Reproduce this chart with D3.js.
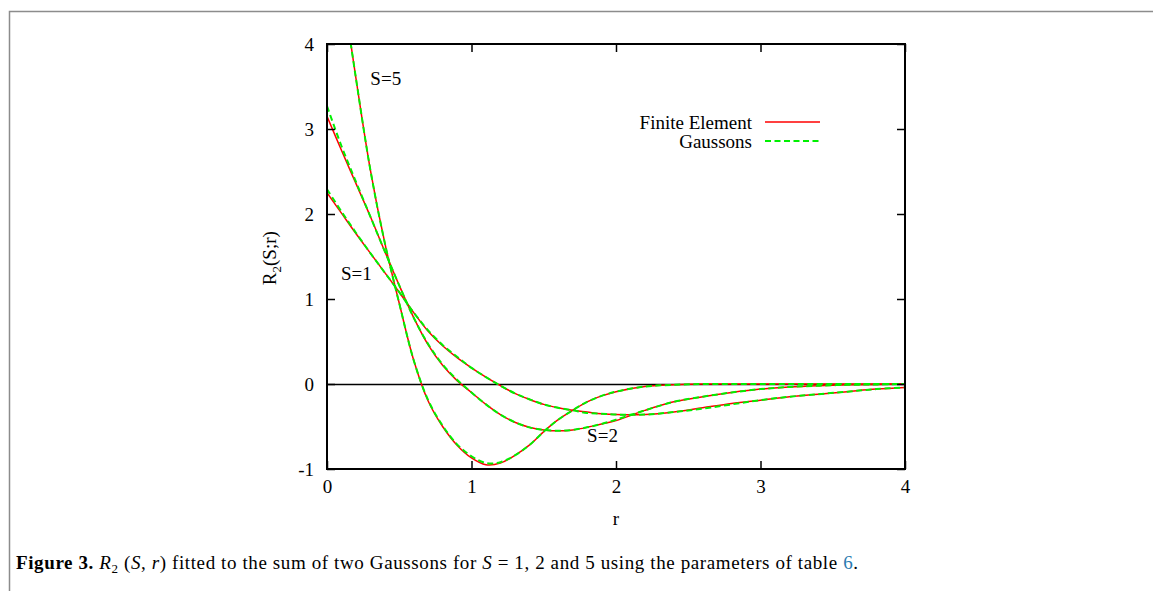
<html>
<head>
<meta charset="utf-8">
<title>R2(S;r) Gaussons</title>
<script src="https://d3js.org/d3.v7.min.js"></script>
<style>
body { margin: 0; background: #fff; }
text { font-family: "Liberation Serif", "Times New Roman", serif; fill: #000; }
</style>
</head>
<body>
<script>
// r grid shared by every curve
var rValues = [0, 0.1, 0.2, 0.3, 0.4, 0.5, 0.6, 0.7, 0.8, 0.9, 1.0, 1.1, 1.2, 1.3, 1.4, 1.5,
  1.6, 1.7, 1.8, 1.9, 2.0, 2.2, 2.4, 2.6, 2.8, 3.0, 3.2, 3.4, 3.6, 3.8, 4.0];

// finite element (red, solid)
var feS1 = [2.25, 2.01, 1.77, 1.54, 1.31, 1.08, 0.84, 0.62, 0.45, 0.31, 0.19, 0.08, -0.02, -0.11,
  -0.18, -0.24, -0.28, -0.31, -0.33, -0.35, -0.36, -0.36, -0.33, -0.28, -0.23, -0.19, -0.15,
  -0.12, -0.09, -0.06, -0.04];
var feS2 = [3.15, 2.75, 2.36, 1.97, 1.56, 1.16, 0.78, 0.46, 0.22, 0.04, -0.10, -0.24, -0.36, -0.45,
  -0.51, -0.54, -0.55, -0.54, -0.51, -0.47, -0.43, -0.31, -0.21, -0.15, -0.10, -0.06, -0.035,
  -0.02, -0.01, -0.005, 0];
var feS5 = [5.9, 4.75, 3.6, 2.52, 1.66, 0.95, 0.28, -0.2, -0.5, -0.72, -0.87, -0.95, -0.93, -0.84,
  -0.72, -0.56, -0.42, -0.31, -0.21, -0.14, -0.09, -0.03, -0.01, 0, 0, 0, 0, 0, 0, 0, 0];

// gaussons fit (green, dashed)
var gaS1 = [2.29, 2.03, 1.78, 1.54, 1.31, 1.08, 0.84, 0.63, 0.46, 0.32, 0.19, 0.08, -0.02, -0.11,
  -0.18, -0.24, -0.28, -0.31, -0.34, -0.35, -0.36, -0.36, -0.33, -0.29, -0.24, -0.19, -0.15,
  -0.12, -0.09, -0.06, -0.04];
var gaS2 = [3.27, 2.8, 2.38, 1.97, 1.56, 1.16, 0.78, 0.47, 0.23, 0.05, -0.10, -0.24, -0.36, -0.45,
  -0.51, -0.54, -0.55, -0.54, -0.51, -0.47, -0.42, -0.31, -0.21, -0.15, -0.10, -0.06, -0.035,
  -0.02, -0.01, -0.005, 0];
var gaS5 = [5.9, 4.75, 3.6, 2.52, 1.66, 0.95, 0.28, -0.19, -0.49, -0.71, -0.85, -0.93, -0.92, -0.84,
  -0.72, -0.56, -0.42, -0.31, -0.21, -0.14, -0.09, -0.03, -0.01, 0, 0, 0, 0, 0, 0, 0, 0];

var xTicks = [0, 1, 2, 3, 4];
var yTicks = [-1, 0, 1, 2, 3, 4];
var curveLabels = [
  {text: "S=5", r: 0.30, v: 3.52},
  {text: "S=1", r: 0.097, v: 1.22},
  {text: "S=2", r: 1.8, v: -0.68}
];
var legendItems = [
  {name: "Finite Element", color: "#ff0000", dash: null},
  {name: "Gaussons", color: "#00f000", dash: "6,3.5"}
];

var width = 1153, height = 591;
var plotL = 327, plotR = 905, plotT = 44, plotB = 469;

var svg = d3.select("body").append("svg")
  .attr("width", width)
  .attr("height", height);

svg.append("rect").attr("width", width).attr("height", height).attr("fill", "#fff");

// page frame
svg.append("path")
  .attr("d", "M9.5," + height + "V11.5H" + width)
  .attr("fill", "none")
  .attr("stroke", "#8c8c8c")
  .attr("stroke-width", 1.5);

var x = d3.scaleLinear().domain([0, 4]).range([plotL, plotR]);
var y = d3.scaleLinear().domain([-1, 4]).range([plotB, plotT]);

svg.append("clipPath").attr("id", "plot")
  .append("rect")
  .attr("x", plotL).attr("y", plotT)
  .attr("width", plotR - plotL).attr("height", plotB - plotT);

// zero line
svg.append("line")
  .attr("x1", x(0)).attr("x2", x(4))
  .attr("y1", y(0) + 0.5).attr("y2", y(0) + 0.5)
  .attr("stroke", "#000").attr("stroke-width", 1.3);

var line = d3.line()
  .x(function(d) { return x(d[0]); })
  .y(function(d) { return y(d[1]); })
  .curve(d3.curveCatmullRom.alpha(0.5));

function pairs(vals) {
  return rValues.map(function(r, i) { return [r, vals[i]]; });
}

var curves = svg.append("g").attr("clip-path", "url(#plot)");
[feS1, feS2, feS5].forEach(function(vals) {
  curves.append("path")
    .attr("d", line(pairs(vals)))
    .attr("fill", "none")
    .attr("stroke", legendItems[0].color)
    .attr("stroke-width", 1.5);
});
[gaS1, gaS2, gaS5].forEach(function(vals) {
  curves.append("path")
    .attr("d", line(pairs(vals)))
    .attr("fill", "none")
    .attr("stroke", legendItems[1].color)
    .attr("stroke-width", 2)
    .attr("stroke-dasharray", legendItems[1].dash);
});

// axes, ticks pointing inwards on all four sides
var fontSize = 19;
var fmt = function(d) { return String(d); };
var gx = svg.append("g").attr("transform", "translate(0," + plotB + ")")
  .call(d3.axisBottom(x).tickValues(xTicks).tickSize(-8).tickPadding(11).tickFormat(fmt));
var gy = svg.append("g").attr("transform", "translate(" + plotL + ",0)")
  .call(d3.axisLeft(y).tickValues(yTicks).tickSize(-8).tickPadding(13).tickFormat(fmt));
var gt = svg.append("g").attr("transform", "translate(0," + plotT + ")")
  .call(d3.axisTop(x).tickValues(xTicks).tickSize(-8).tickFormat(""));
var gr = svg.append("g").attr("transform", "translate(" + plotR + ",0)")
  .call(d3.axisRight(y).tickValues(yTicks).tickSize(-8).tickFormat(""));

[gx, gy, gt, gr].forEach(function(g) {
  g.select(".domain").remove();
  g.selectAll(".tick line").attr("stroke", "#000").attr("stroke-width", 1.5);
  g.selectAll("text")
    .attr("font-family", "Liberation Serif, serif")
    .attr("font-size", fontSize)
    .attr("fill", "#000");
});

svg.append("rect")
  .attr("x", plotL).attr("y", plotT)
  .attr("width", plotR - plotL).attr("height", plotB - plotT)
  .attr("fill", "none").attr("stroke", "#000").attr("stroke-width", 2);

// axis titles
svg.append("text")
  .attr("x", x(2)).attr("y", 525)
  .attr("text-anchor", "middle")
  .attr("font-size", fontSize)
  .text("r");

var yt = svg.append("text")
  .attr("transform", "translate(276," + y(1.48) + ") rotate(-90)")
  .attr("text-anchor", "middle")
  .attr("font-size", fontSize);
yt.append("tspan").text("R");
yt.append("tspan").attr("font-size", 13).attr("dy", 5).text("2");
yt.append("tspan").attr("dy", -5).text("(S;r)");

// curve labels
svg.selectAll("text.clab")
  .data(curveLabels)
  .enter().append("text")
  .attr("class", "clab")
  .attr("x", function(d) { return x(d.r); })
  .attr("y", function(d) { return y(d.v); })
  .attr("font-size", fontSize)
  .text(function(d) { return d.text; });

// legend
var leg = svg.selectAll("g.leg")
  .data(legendItems)
  .enter().append("g")
  .attr("class", "leg")
  .attr("transform", function(d, i) { return "translate(0," + (122 + i * 19) + ")"; });
leg.append("text")
  .attr("x", 752).attr("y", 7)
  .attr("text-anchor", "end")
  .attr("font-size", fontSize)
  .text(function(d) { return d.name; });
leg.append("line")
  .attr("x1", 765).attr("x2", 820)
  .attr("stroke", function(d) { return d.color; })
  .attr("stroke-width", function(d, i) { return i ? 2 : 1.5; })
  .attr("stroke-dasharray", function(d) { return d.dash; });

// caption
var cap = svg.append("text")
  .attr("x", 16).attr("y", 569)
  .attr("font-size", 19)
  .attr("textLength", 842)
  .attr("lengthAdjust", "spacing");
cap.append("tspan").attr("font-weight", "bold").text("Figure 3.");
cap.append("tspan").text(" ");
cap.append("tspan").attr("font-style", "italic").text("R");
cap.append("tspan").attr("font-size", 13).attr("dy", 4).text("2");
cap.append("tspan").attr("dy", -4).text(" (");
cap.append("tspan").attr("font-style", "italic").text("S");
cap.append("tspan").text(", ");
cap.append("tspan").attr("font-style", "italic").text("r");
cap.append("tspan").text(") fitted to the sum of two Gaussons for ");
cap.append("tspan").attr("font-style", "italic").text("S");
cap.append("tspan").text(" = 1, 2 and 5 using the parameters of table ");
cap.append("tspan").attr("fill", "#2a7ab0").text("6");
cap.append("tspan").text(".");
</script>
</body>
</html>
